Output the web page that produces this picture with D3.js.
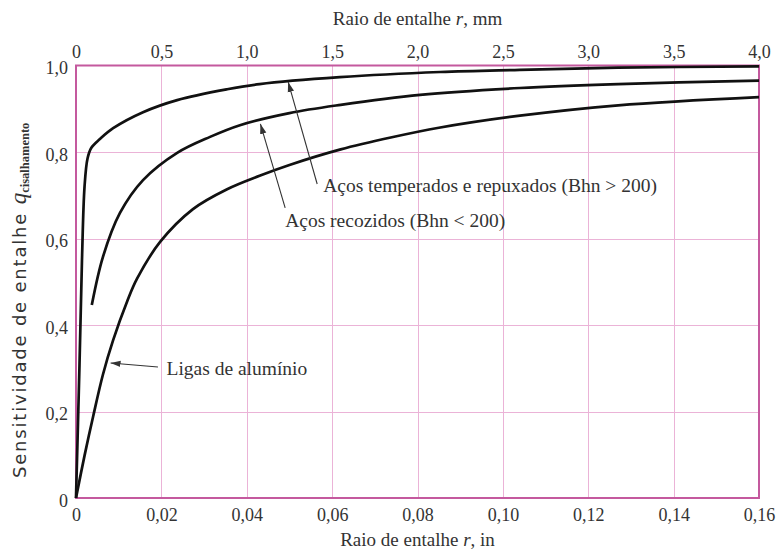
<!doctype html>
<html lang='pt'>
<head>
  <meta charset='utf-8'>
  <title>Sensitividade de entalhe</title>
  <style>
    html, body { margin: 0; padding: 0; background: #fff; }
    text { fill: #333; }
    .grid line { stroke: #ebb3d7; stroke-width: 1; shape-rendering: crispEdges; }
    .frame { fill: none; stroke: #c4599e; stroke-width: 2; }
    .curve { fill: none; stroke: #111; stroke-width: 2.7; }
    .arrow { stroke: #333; stroke-width: 1.1; }
  </style>
</head>
<body>
  <script src='https://d3js.org/d3.v7.min.js'></script>
  <script>
    // curves: [raio r (in), q]
    const acosTemperados = [
      [0, 0], [0.0008, 0.30], [0.0014, 0.55], [0.002, 0.72], [0.0027, 0.785],
      [0.0036, 0.81], [0.0056, 0.83], [0.0087, 0.855], [0.0157, 0.892],
      [0.0237, 0.920], [0.0354, 0.945], [0.043, 0.957], [0.0618, 0.973],
      [0.0853, 0.985], [0.104, 0.990], [0.127, 0.995], [0.16, 0.998]
    ]
    const acosRecozidos = [
      [0.0037, 0.446], [0.0063, 0.557], [0.0103, 0.659], [0.0157, 0.735],
      [0.0237, 0.798], [0.0314, 0.835], [0.0384, 0.862], [0.05, 0.89],
      [0.062, 0.909], [0.0806, 0.932], [0.104, 0.948], [0.127, 0.957], [0.16, 0.965]
    ]
    const ligasAluminio = [
      [0, 0], [0.002, 0.098], [0.004, 0.188], [0.0063, 0.285], [0.0087, 0.365],
      [0.012, 0.455], [0.0143, 0.507], [0.0197, 0.592], [0.0274, 0.668],
      [0.0354, 0.714], [0.043, 0.745], [0.05, 0.77], [0.062, 0.806],
      [0.074, 0.834], [0.085, 0.856], [0.104, 0.884], [0.127, 0.908], [0.16, 0.927]
    ]

    const ticksIn = [0, 0.02, 0.04, 0.06, 0.08, 0.10, 0.12, 0.14, 0.16]
    const ticksMm = [0, 0.5, 1.0, 1.5, 2.0, 2.5, 3.0, 3.5, 4.0]
    const ticksQ = [0, 0.2, 0.4, 0.6, 0.8, 1.0]

    // labels: arrow tip, arrow tail, text start (all in r, q)
    const rotulos = [
      { texto: 'Aços temperados e repuxados (Bhn > 200)', ponta: [0.0497, 0.962], cauda: [0.0565, 0.726], pos: [0.0579, 0.708] },
      { texto: 'Aços recozidos (Bhn < 200)', ponta: [0.0432, 0.865], cauda: [0.049, 0.671], pos: [0.049, 0.627] },
      { texto: 'Ligas de alumínio', ponta: [0.0081, 0.312], cauda: [0.0192, 0.303], pos: [0.0212, 0.284] }
    ]

    const serif = "'Liberation Serif', 'Times New Roman', serif"
    const width = 778
    const height = 553
    const margin = { top: 65.5, right: 19, bottom: 55, left: 76 }

    const x = d3.scaleLinear([0, 0.16], [margin.left, width - margin.right])
    const xMm = d3.scaleLinear([0, 4], [margin.left, width - margin.right])
    const y = d3.scaleLinear([0, 1], [height - margin.bottom, margin.top])

    const virgula = (fmt) => (d) => d === 0 ? '0' : d3.format(fmt)(d).replace('.', ',')

    const svg = d3.select('body').append('svg')
      .attr('width', width)
      .attr('height', height)
      .attr('viewBox', [0, 0, width, height])
      .style('font-family', serif)

    svg.append('defs').append('marker')
      .attr('id', 'seta')
      .attr('markerUnits', 'userSpaceOnUse')
      .attr('viewBox', '0 -4 10 8')
      .attr('refX', 10)
      .attr('refY', 0)
      .attr('markerWidth', 10)
      .attr('markerHeight', 8)
      .attr('orient', 'auto')
      .append('path')
      .attr('d', 'M0,-3.2L10,0L0,3.2Z')
      .attr('fill', '#333')

    // grid
    const grid = svg.append('g').attr('class', 'grid')
    grid.selectAll('line.v')
      .data(ticksIn.slice(1, -1))
      .join('line')
      .attr('class', 'v')
      .attr('x1', d => Math.round(x(d)) + 0.5).attr('x2', d => Math.round(x(d)) + 0.5)
      .attr('y1', y(0)).attr('y2', y(1))
    grid.selectAll('line.h')
      .data(ticksQ.slice(1, -1))
      .join('line')
      .attr('class', 'h')
      .attr('x1', x(0)).attr('x2', x(0.16))
      .attr('y1', d => Math.round(y(d)) + 0.5).attr('y2', d => Math.round(y(d)) + 0.5)

    svg.append('rect')
      .attr('class', 'frame')
      .attr('x', x(0))
      .attr('y', y(1))
      .attr('width', x(0.16) - x(0))
      .attr('height', y(0) - y(1))

    // axes (tick labels only, no tick marks)
    const eixoX = svg.append('g')
      .attr('transform', `translate(0,${y(0)})`)
      .call(d3.axisBottom(x).tickValues(ticksIn).tickFormat(virgula('.2f')).tickSize(0).tickPadding(10))
    const eixoMm = svg.append('g')
      .attr('transform', `translate(0,${y(1)})`)
      .call(d3.axisTop(xMm).tickValues(ticksMm).tickFormat(virgula('.1f')).tickSize(0).tickPadding(8))
    const eixoY = svg.append('g')
      .attr('transform', `translate(${x(0)},0)`)
      .call(d3.axisLeft(y).tickValues(ticksQ).tickFormat(virgula('.1f')).tickSize(0).tickPadding(8))

    ;[eixoX, eixoMm, eixoY].forEach(g => {
      g.attr('font-family', null).attr('font-size', null)
      g.select('.domain').remove()
      g.selectAll('.tick line').remove()
      g.selectAll('text')
        .style('font-family', serif)
        .style('font-size', '18px')
        .style('fill', '#333')
    })
    eixoY.selectAll('text').attr('dy', '0.45em')

    // axis titles
    const tituloBaixo = svg.append('text')
      .attr('x', (x(0) + x(0.16)) / 2)
      .attr('y', 546)
      .attr('text-anchor', 'middle')
      .style('font-size', '19px')
    tituloBaixo.append('tspan').text('Raio de entalhe ')
    tituloBaixo.append('tspan').style('font-style', 'italic').text('r')
    tituloBaixo.append('tspan').text(', in')

    const tituloTopo = svg.append('text')
      .attr('x', (x(0) + x(0.16)) / 2)
      .attr('y', 25)
      .attr('text-anchor', 'middle')
      .style('font-size', '19px')
    tituloTopo.append('tspan').text('Raio de entalhe ')
    tituloTopo.append('tspan').style('font-style', 'italic').text('r')
    tituloTopo.append('tspan').text(', mm')

    const tituloY = svg.append('text')
      .attr('transform', `translate(26,${y(0) - 20}) rotate(-90)`)
      .attr('text-anchor', 'start')
    tituloY.append('tspan')
      .style('font-family', "'DejaVu Sans', sans-serif")
      .style('font-size', '18px')
      .style('letter-spacing', '1.8px')
      .text('Sensitividade de entalhe ')
    tituloY.append('tspan')
      .style('font-style', 'italic')
      .style('font-size', '23px')
      .text('q')
    tituloY.append('tspan')
      .attr('dy', 3)
      .style('font-size', '12.5px')
      .style('font-weight', 'bold')
      .text('cisalhamento')

    // curves
    const linha = d3.line()
      .x(d => x(d[0]))
      .y(d => y(d[1]))
      .curve(d3.curveCatmullRom.alpha(0.5))

    svg.append('g')
      .selectAll('path')
      .data([acosTemperados, acosRecozidos, ligasAluminio])
      .join('path')
      .attr('class', 'curve')
      .attr('d', linha)

    // labels with arrows
    const rotulo = svg.append('g')
      .selectAll('g')
      .data(rotulos)
      .join('g')

    rotulo.append('line')
      .attr('class', 'arrow')
      .attr('x1', d => x(d.cauda[0]))
      .attr('y1', d => y(d.cauda[1]))
      .attr('x2', d => x(d.ponta[0]))
      .attr('y2', d => y(d.ponta[1]))
      .attr('marker-end', 'url(#seta)')

    rotulo.append('text')
      .attr('x', d => x(d.pos[0]))
      .attr('y', d => y(d.pos[1]))
      .style('font-size', '19.5px')
      .text(d => d.texto)
  </script>
</body>
</html>
